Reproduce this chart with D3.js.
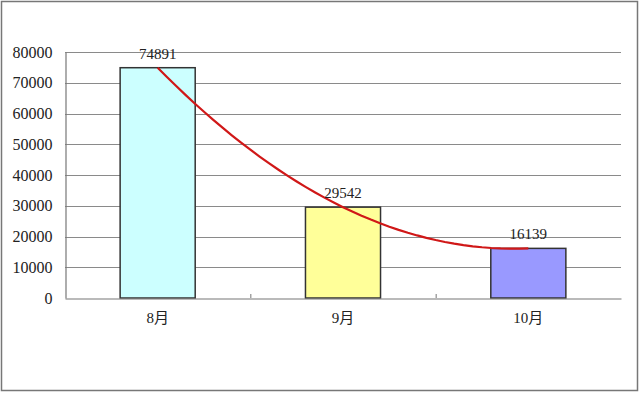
<!DOCTYPE html>
<html>
<head>
<meta charset="utf-8">
<script src="https://cdn.jsdelivr.net/npm/d3@7"></script>
<style>
  body { margin: 0; background: #fff; }
  svg { display: block; }
</style>
</head>
<body>
<svg id="chart" width="640" height="394"></svg>
<script>
const months = ['8月', '9月', '10月']
const counts = [74891, 29542, 16139]
const barColors = ['#ccffff', '#ffff99', '#9999ff']
const yTicks = [0, 10000, 20000, 30000, 40000, 50000, 60000, 70000, 80000]

const width = 640
const height = 394
const margin = { top: 52, right: 19, bottom: 96, left: 65 }
const fontFamily = '"Liberation Serif", "Noto Sans CJK SC", serif'

const svg = d3.select('#chart')
  .attr('font-family', fontFamily)

// outer frame
svg.append('rect')
  .attr('x', 1.5).attr('y', 1.5)
  .attr('width', 636).attr('height', 389)
  .attr('fill', '#fff')
  .attr('stroke', '#777')
  .attr('stroke-width', 1.5)

const x = d3.scaleBand(months, [margin.left, width - margin.right]).padding(0)
const y = d3.scaleLinear([0, 80000], [height - margin.bottom, margin.top])
const barW = x.bandwidth() * 0.405
const cx = (i) => x(months[i]) + x.bandwidth() / 2

// grid
svg.append('g')
  .selectAll('line')
  .data(yTicks.slice(1))
  .join('line')
  .attr('x1', margin.left)
  .attr('x2', width - margin.right)
  .attr('y1', (d) => Math.round(y(d)) + 0.5)
  .attr('y2', (d) => Math.round(y(d)) + 0.5)
  .attr('stroke', '#8a8a8a')
  .attr('stroke-width', 1.2)

// Y axis
const yAxis = svg.append('g')
  .attr('transform', `translate(${ margin.left + 0.5 },0)`)
  .call(d3.axisLeft(y).tickValues(yTicks).tickSize(0).tickPadding(13).tickFormat(d3.format('d')))
  .attr('font-family', fontFamily)
  .attr('font-size', 16)
yAxis.select('.domain').attr('stroke', '#777').attr('stroke-width', 1.2)
yAxis.selectAll('.tick text').attr('fill', '#222')

// bars
svg.append('g')
  .selectAll('rect')
  .data(counts)
  .join('rect')
  .attr('x', (d, i) => x(months[i]) + (x.bandwidth() - barW) / 2)
  .attr('y', (d) => y(d))
  .attr('width', barW)
  .attr('height', (d) => y(0) - y(d))
  .attr('fill', (d, i) => barColors[i])
  .attr('stroke', '#333')
  .attr('stroke-width', 1.5)

// X axis
const xAxis = svg.append('g')
  .attr('transform', `translate(0,${ y(0) + 0.5 })`)
  .call(d3.axisBottom(x).tickSize(0).tickPadding(14))
  .attr('font-family', fontFamily)
  .attr('font-size', 15)
xAxis.select('.domain').attr('stroke', '#777').attr('stroke-width', 1.2)
xAxis.selectAll('.tick text').attr('fill', '#222')

// category separator ticks
svg.append('g')
  .selectAll('line')
  .data(months.slice(1))
  .join('line')
  .attr('x1', (d) => x(d) + 0.5)
  .attr('x2', (d) => x(d) + 0.5)
  .attr('y1', y(0))
  .attr('y2', y(0) - 4)
  .attr('stroke', '#777')

// 2nd-order polynomial trendline through the three monthly values
const c2 = (counts[2] - 2 * counts[1] + counts[0]) / 2
const c1 = counts[1] - counts[0] - c2
const trend = (t) => counts[0] + c1 * t + c2 * t * t
const tScale = d3.scaleLinear([0, counts.length - 1], [cx(0), cx(counts.length - 1)])

const line = d3.line()
  .x((t) => tScale(t))
  .y((t) => y(trend(t)))

svg.append('path')
  .datum(d3.range(0, 2.0001, 0.05))
  .attr('d', line)
  .attr('fill', 'none')
  .attr('stroke', '#d01818')
  .attr('stroke-width', 2.2)

// value labels
svg.append('g')
  .selectAll('text')
  .data(counts)
  .join('text')
  .attr('x', (d, i) => cx(i))
  .attr('y', (d) => y(d) - 9)
  .attr('text-anchor', 'middle')
  .attr('font-size', 15)
  .attr('fill', '#222')
  .text((d) => d)
</script>
</body>
</html>
